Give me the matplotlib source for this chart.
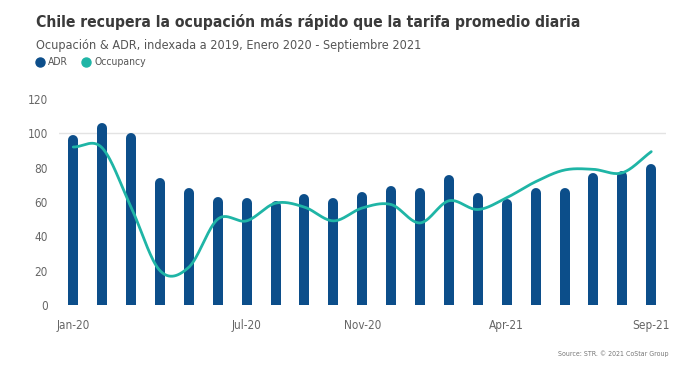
"""Chile: ocupación vs ADR indexado a 2019 (barras + curva suavizada)."""
import numpy as np
import matplotlib
matplotlib.use("Agg")
import matplotlib.pyplot as plt
from matplotlib import font_manager
from matplotlib.font_manager import FontProperties
from matplotlib.lines import Line2D

months = ["Jan-20", "Feb-20", "Mar-20", "Apr-20", "May-20", "Jun-20", "Jul-20",
          "Aug-20", "Sep-20", "Oct-20", "Nov-20", "Dec-20", "Jan-21", "Feb-21",
          "Mar-21", "Apr-21", "May-21", "Jun-21", "Jul-21", "Aug-21", "Sep-21"]
adr = [99, 106, 100, 74, 68, 63, 62.5, 60.7, 64.5, 62.2, 66, 69.5, 68, 75.6,
       65.4, 62, 68, 68, 76.6, 77.8, 82]
occupancy = [92, 91.5, 57, 20, 22, 50, 49, 59.3, 57, 49, 56.5, 58.5, 47.8, 60.7,
             55.6, 62.5, 71.8, 78.6, 79, 77, 89.3]
tick_labels = {0: "Jan-20", 6: "Jul-20", 10: "Nov-20", 15: "Apr-21", 20: "Sep-21"}
y_ticks = [0, 20, 40, 60, 80, 100, 120]

ADR_C = "#0C4E8A"
OCC_C = "#1FB5A6"

# fuente condensada si existe (el original usa una sans condensada)
cond = font_manager.findfont(FontProperties(family="DejaVu Sans", stretch="condensed",
                                            weight="bold"), fallback_to_default=True)
if "Condensed" in cond:
    plt.rcParams["font.family"] = ["DejaVu Sans"]
    plt.rcParams["font.stretch"] = "condensed"
else:
    plt.rcParams["font.family"] = ["Roboto", "DejaVu Sans"]


def catmull_rom(x, y, steps=30):
    # curva suave que pasa por los puntos (como el "spline" del original)
    x = np.asarray(x, float); y = np.asarray(y, float)
    px = np.concatenate([[2 * x[0] - x[1]], x, [2 * x[-1] - x[-2]]])
    py = np.concatenate([[2 * y[0] - y[1]], y, [2 * y[-1] - y[-2]]])
    t = np.linspace(0, 1, steps, endpoint=False)[:, None]
    xs, ys = [], []
    for i in range(1, len(px) - 2):
        for p, out in ((px, xs), (py, ys)):
            p0, p1, p2, p3 = p[i - 1], p[i], p[i + 1], p[i + 2]
            seg = 0.5 * ((2 * p1) + (-p0 + p2) * t + (2 * p0 - 5 * p1 + 4 * p2 - p3) * t ** 2
                         + (-p0 + 3 * p1 - 3 * p2 + p3) * t ** 3)
            out.append(seg.ravel())
    xs = np.concatenate(xs + [[x[-1]]]); ys = np.concatenate(ys + [[y[-1]]])
    return xs, ys


def fit_width(fig, txt, target_px, max_size):
    # ajusta el tamaño para que el texto ocupe el ancho del original
    r = fig.canvas.get_renderer()
    w = txt.get_window_extent(r).width
    txt.set_fontsize(min(max_size, txt.get_fontsize() * target_px / w))


fig = plt.figure(figsize=(7.0, 3.66), dpi=100)
ax = fig.add_axes([0.084, 0.1667, 0.867, 0.563])
ax.set_xlim(-0.5, len(months) - 0.5)
ax.set_ylim(0, 120)

x = np.arange(len(months))
# barras con tapa redondeada: vlines con capstyle round, recortadas en y=0
bar_px = 10.0
px_per_unit = ax.get_position().height * fig.get_figheight() * fig.dpi / 120
r = bar_px / 2 / px_per_unit
ax.vlines(x, -r, np.array(adr) - r, colors=ADR_C, lw=bar_px * 72 / fig.dpi,
          capstyle="round", zorder=2)

sx, sy = catmull_rom(x, occupancy)
ax.plot(sx, sy, color=OCC_C, lw=2.0, zorder=3, solid_capstyle="round")

ax.axhline(100, color="#E3E3E3", lw=1.0, zorder=1)
for s in ax.spines.values():
    s.set_visible(False)
ax.set_yticks(y_ticks)
ax.set_xticks(list(tick_labels.keys()), list(tick_labels.values()))
ax.tick_params(length=0, labelsize=8.5, colors="#666666")
ax.tick_params(axis="y", pad=8)
ax.tick_params(axis="x", pad=10)

title = fig.text(0.051, 0.94, "Chile recupera la ocupación más rápido que la tarifa promedio diaria",
                 fontsize=14, fontweight="bold", color="#3A3A3A", va="center")
sub = fig.text(0.051, 0.877, "Ocupación & ADR, indexada a 2019, Enero 2020 - Septiembre 2021",
               fontsize=11, color="#555555", va="center")
fit_width(fig, title, 549, 15)
fit_width(fig, sub, 386, 11.5)

handles = [Line2D([], [], ls="none", marker="o", ms=6.5, color=ADR_C, label="ADR"),
           Line2D([], [], ls="none", marker="o", ms=6.5, color=OCC_C, label="Occupancy")]
leg = fig.legend(handles=handles, loc="center left", bbox_to_anchor=(0.042, 0.83), ncol=2,
                 frameon=False, fontsize=7.5, handletextpad=0.3, columnspacing=1.2,
                 borderpad=0, handlelength=1)
for t in leg.get_texts():
    t.set_color("#555555")
fig.text(0.955, 0.035, "Source: STR. © 2021 CoStar Group", fontsize=5, color="#777777",
         ha="right", va="center")

fig.savefig("out.png", dpi=100)
